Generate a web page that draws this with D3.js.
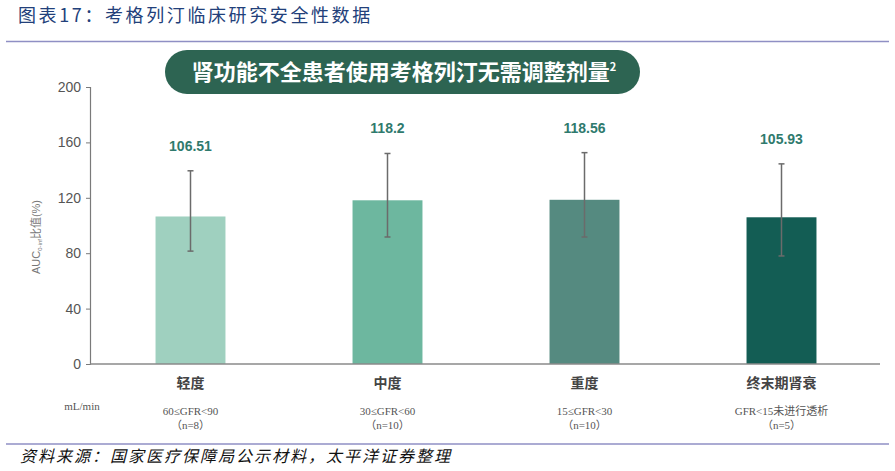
<!DOCTYPE html>
<html><head><meta charset="utf-8">
<script src="https://cdn.jsdelivr.net/npm/d3@7"></script>
<style>
html,body{margin:0;padding:0;background:#fff;}
svg{display:block;}
</style></head>
<body>
<svg id="chart" width="895" height="471"></svg>
<script>
const categories = ["轻度", "中度", "重度", "终末期肾衰"];
const values = [106.51, 118.2, 118.56, 105.93];
const valueLabels = ["106.51", "118.2", "118.56", "105.93"];
const errLow = [81.5, 91.7, 91.7, 78];
const errHigh = [139.5, 152, 152.6, 144.5];
const subLine1 = ["60≤GFR<90", "30≤GFR<60", "15≤GFR<30", "GFR<15未进行透析"];
const subLine2 = ["（n=8）", "（n=10）", "（n=10）", "（n=5）"];
const barColors = ["#9fd0bf", "#6db79f", "#558a80", "#135d54"];
const yTicks = [0, 40, 80, 120, 160, 200];

const svg = d3.select("#chart");
const sans = "Arial, 'Liberation Sans', 'Noto Sans CJK SC', sans-serif";
const serif = "'Liberation Serif', 'Times New Roman', 'Noto Sans CJK SC', serif";

// Title
svg.append("text").attr("x", 18).attr("y", 22)
  .attr("font-family", "'Noto Sans CJK SC', serif").attr("font-size", 18)
  .attr("letter-spacing", 2.6).attr("fill", "#22407a").text("图表17：考格列汀临床研究安全性数据");
svg.append("line").attr("x1", 6).attr("x2", 889).attr("y1", 41.5).attr("y2", 41.5)
  .attr("stroke", "#8f8fc4").attr("stroke-width", 1.5);

// Banner
svg.append("rect").attr("x", 165).attr("y", 50).attr("width", 475).attr("height", 44)
  .attr("rx", 22).attr("fill", "#2d6452");
const bt = svg.append("text").attr("x", 404).attr("y", 80).attr("text-anchor", "middle")
  .attr("font-family", "'Noto Sans CJK SC', sans-serif").attr("font-weight", "bold")
  .attr("font-size", 22).attr("fill", "#fff");
bt.append("tspan").text("肾功能不全患者使用考格列汀无需调整剂量");
bt.append("tspan").attr("font-size", 11).attr("dy", -9).text("2");

// Scales
const x = d3.scaleBand().domain(categories).range([92, 880]).paddingInner(0.645).paddingOuter(0.3225);
const y = d3.scaleLinear().domain([0, 200]).range([364, 87]);

// Bars
svg.selectAll("rect.bar").data(categories).join("rect").attr("class", "bar")
  .attr("x", d => x(d)).attr("width", x.bandwidth())
  .attr("y", (d, i) => y(values[i])).attr("height", (d, i) => y(0) - y(values[i]))
  .attr("fill", (d, i) => barColors[i]);

// Error bars
const eg = svg.append("g").attr("stroke", "#6b6b6b").attr("stroke-width", 1.5);
categories.forEach((c, i) => {
  const cx = x(c) + x.bandwidth() / 2;
  eg.append("line").attr("x1", cx).attr("x2", cx).attr("y1", y(errLow[i])).attr("y2", y(errHigh[i]));
  eg.append("line").attr("x1", cx - 3).attr("x2", cx + 3).attr("y1", y(errLow[i])).attr("y2", y(errLow[i]));
  eg.append("line").attr("x1", cx - 3).attr("x2", cx + 3).attr("y1", y(errHigh[i])).attr("y2", y(errHigh[i]));
});

// Value labels
svg.selectAll("text.val").data(categories).join("text").attr("class", "val")
  .attr("x", d => x(d) + x.bandwidth() / 2).attr("y", (d, i) => y(errHigh[i]) - 20)
  .attr("text-anchor", "middle").attr("font-family", sans).attr("font-weight", "bold")
  .attr("font-size", 14).attr("fill", "#2f7a6d").text((d, i) => valueLabels[i]);

// Y axis
const ya = svg.append("g").attr("transform", "translate(90,0)")
  .call(d3.axisLeft(y).tickValues(yTicks).tickSize(4).tickPadding(5));
ya.select(".domain").attr("stroke", "#7a7a7a").attr("stroke-width", 1.2);
ya.selectAll(".tick line").attr("stroke", "#7a7a7a");
ya.selectAll(".tick text").attr("font-family", sans).attr("font-size", 14).attr("fill", "#555");

// X axis line
svg.append("line").attr("x1", 90).attr("x2", 880).attr("y1", 364).attr("y2", 364)
  .attr("stroke", "#8a8a8a").attr("stroke-width", 1.5);

// Y title
const yt = svg.append("text").attr("transform", "translate(40,237) rotate(-90)")
  .attr("text-anchor", "middle").attr("font-family", sans).attr("font-size", 11).attr("fill", "#777");
yt.append("tspan").text("AUC");
yt.append("tspan").attr("font-size", 6).attr("dy", 2).text("0-inf");
yt.append("tspan").attr("dy", -2).text("比值(%)");

// Category labels
svg.selectAll("text.cat").data(categories).join("text").attr("class", "cat")
  .attr("x", d => x(d) + x.bandwidth() / 2).attr("y", 388).attr("text-anchor", "middle")
  .attr("font-family", "'Noto Sans CJK SC', sans-serif").attr("font-weight", "bold")
  .attr("font-size", 14).attr("fill", "#444").text(d => d);

svg.selectAll("text.sub1").data(categories).join("text").attr("class", "sub1")
  .attr("x", d => x(d) + x.bandwidth() / 2).attr("y", 415).attr("text-anchor", "middle")
  .attr("font-family", serif).attr("font-size", 11).attr("fill", "#555").text((d, i) => subLine1[i]);
svg.selectAll("text.sub2").data(categories).join("text").attr("class", "sub2")
  .attr("x", d => x(d) + x.bandwidth() / 2).attr("y", 429).attr("text-anchor", "middle")
  .attr("font-family", serif).attr("font-size", 11).attr("fill", "#555").text((d, i) => subLine2[i]);

svg.append("text").attr("x", 82).attr("y", 410).attr("text-anchor", "middle")
  .attr("font-family", serif).attr("font-size", 11).attr("fill", "#555").text("mL/min");

// Footer
svg.append("line").attr("x1", 6).attr("x2", 889).attr("y1", 444).attr("y2", 444)
  .attr("stroke", "#8f8fc4").attr("stroke-width", 1.5);
svg.append("text").attr("x", 20).attr("y", 462)
  .attr("font-family", "'Noto Sans CJK SC', serif").attr("font-style", "italic")
  .attr("font-size", 16).attr("letter-spacing", 2).attr("fill", "#111")
  .text("资料来源：国家医疗保障局公示材料，太平洋证券整理");
</script>
</body></html>
